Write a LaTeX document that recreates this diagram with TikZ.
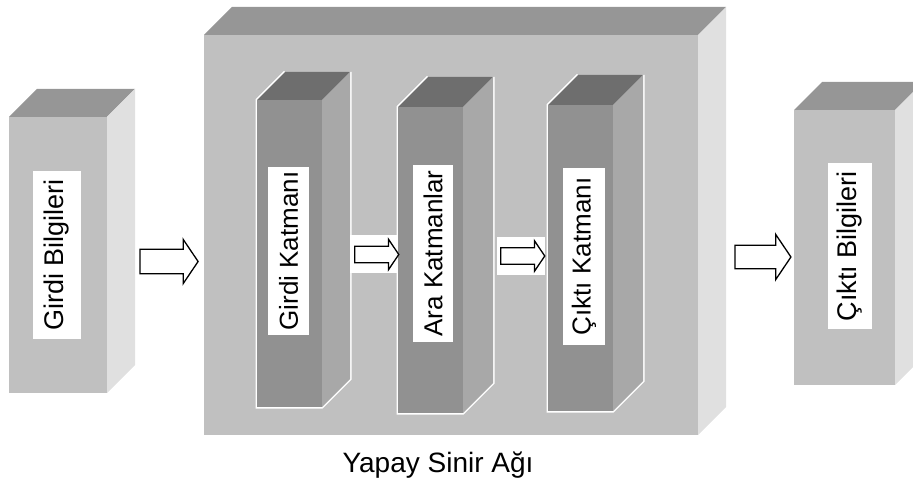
\documentclass[tikz,border=0pt]{standalone}
\usepackage{fontspec}
\setmainfont{Liberation Sans}
\usetikzlibrary{shapes.arrows}

\definecolor{boxfront}{HTML}{C0C0C0}
\definecolor{boxtop}{HTML}{969696}
\definecolor{boxside}{HTML}{E0E0E0}
\definecolor{colfront}{HTML}{919191}
\definecolor{coltop}{HTML}{6E6E6E}
\definecolor{colside}{HTML}{A8A8A8}

\begin{document}
\begin{tikzpicture}[x=1pt,y=-1pt,
    lbl/.style={fill=white,rotate=90,inner sep=0pt,font=\fontsize{26}{26}\selectfont},
    blockarrow/.style={single arrow,draw=black,fill=white,line width=1.3pt,inner xsep=0pt,
      single arrow tip angle=112}]
    \useasboundingbox (0,0) rectangle (913,481);
    % outer boxes
    \foreach \xa/\ya/\xb/\yb in {9/117/107/393,204/35/698/435,794/110/895/385} {
      \fill[boxfront] (\xa,\ya) rectangle (\xb,\yb);
      \fill[boxtop] (\xa,\ya) -- (\xa+28,\ya-28) -- (\xb+28,\ya-28) -- (\xb,\ya) -- cycle;
      \fill[boxside] (\xb,\ya) -- (\xb+28,\ya-28) -- (\xb+28,\yb-28) -- (\xb,\yb) -- cycle;
    }
    % layer columns
    \foreach \xa/\ya/\xb/\yb/\d in {257/100/322/407/28,398/107/463/413/30,548/105/613/411/30} {
      \draw[white,line width=3pt] (\xa+\d,\ya-\d) -- (\xa,\ya) -- (\xa,\yb) -- (\xb,\yb) -- (\xb+\d,\yb-\d) -- (\xb+\d,\ya-\d);
      \fill[colfront] (\xa,\ya) rectangle (\xb,\yb);
      \fill[coltop] (\xa,\ya) -- (\xa+\d,\ya-\d) -- (\xb+\d,\ya-\d) -- (\xb,\ya) -- cycle;
      \fill[colside] (\xb,\ya) -- (\xb+\d,\ya-\d) -- (\xb+\d,\yb-\d) -- (\xb,\yb) -- cycle;
    }
    \fill[white] (350,235) rectangle (398,273);
    \fill[white] (497,237) rectangle (545,275);
    % labels
    \node[lbl,minimum width=168pt,minimum height=48pt,font=\fontsize{27}{27}\selectfont] (inb) at (57,255) {Girdi Bilgileri};
    \node[lbl,minimum width=168pt,minimum height=41pt] (inl) at (288.5,251) {Girdi Katmanı};
    \node[lbl,minimum width=177pt,minimum height=40pt] (hidl) at (433,253.5) {Ara Katmanlar};
    \node[lbl,minimum width=177pt,minimum height=42pt] (outl) at (584,256.5) {Çıktı Katmanı};
    \node[lbl,minimum width=166pt,minimum height=44pt,font=\fontsize{27}{27}\selectfont] (outb) at (850,246) {Çıktı Bilgileri};
    \node[font=\fontsize{28}{28}\selectfont,anchor=base] (ysa) at (438,472) {Yapay Sinir Ağı};
    % arrows
    \node[blockarrow,minimum height=58pt,inner ysep=11.5pt,single arrow head extend=10pt] (ar1) at (165,261.5) {};
    \node[blockarrow,minimum height=44pt,inner ysep=7.5pt,single arrow head extend=7pt] (ar2) at (374,254.5) {};
    \node[blockarrow,minimum height=44pt,inner ysep=7.5pt,single arrow head extend=7pt] (ar3) at (520,256) {};
    \node[blockarrow,minimum height=56pt,inner ysep=11pt,single arrow head extend=11pt] (ar4) at (759,257) {};
\end{tikzpicture}
\end{document}
